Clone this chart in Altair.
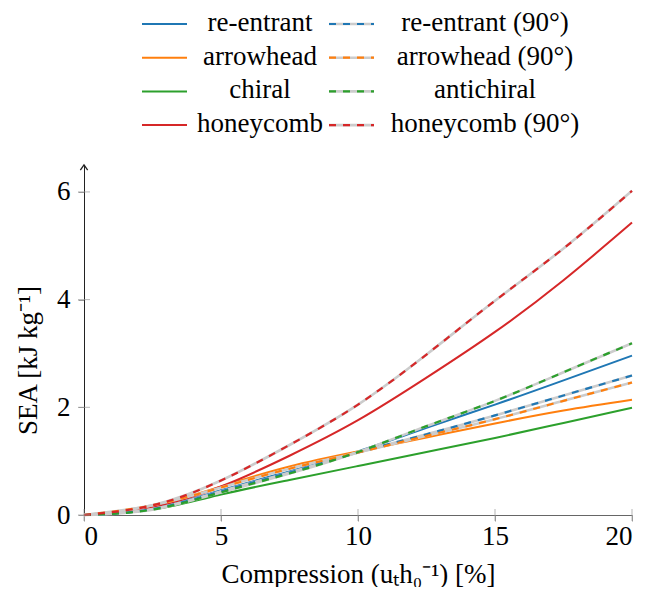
import altair as alt
import pandas as pd

# ---- data ----
x_vals = [0, 2.5, 5, 7.5, 10, 12.5, 15, 17.5, 20]

series_names = ["re-entrant", "arrowhead", "chiral", "honeycomb",
                "re-entrant (90°)", "arrowhead (90°)", "antichiral", "honeycomb (90°)"]
series_colors = ["#1f77b4", "#ff7f0e", "#2ca02c", "#d62728",
                 "#1f77b4", "#ff7f0e", "#2ca02c", "#d62728"]
series_dashed = [False, False, False, False, True, True, True, True]

re_entrant = [0, 0.12, 0.46, 0.81, 1.18, 1.62, 2.05, 2.50, 2.96]
arrowhead = [0, 0.17, 0.53, 0.90, 1.18, 1.44, 1.70, 1.94, 2.14]
chiral = [0, 0.10, 0.38, 0.65, 0.91, 1.17, 1.43, 1.71, 1.99]
honeycomb = [0, 0.15, 0.53, 1.10, 1.76, 2.55, 3.40, 4.36, 5.43]
re_entrant_90 = [0, 0.11, 0.44, 0.79, 1.16, 1.50, 1.85, 2.22, 2.59]
arrowhead_90 = [0, 0.18, 0.51, 0.86, 1.16, 1.47, 1.78, 2.12, 2.46]
antichiral = [0, 0.10, 0.42, 0.77, 1.17, 1.65, 2.12, 2.65, 3.19]
honeycomb_90 = [0, 0.18, 0.64, 1.30, 2.05, 2.98, 3.98, 4.95, 6.02]

series_values = [re_entrant, arrowhead, chiral, honeycomb,
                 re_entrant_90, arrowhead_90, antichiral, honeycomb_90]

x_ticks = [0, 5, 10, 15, 20]
y_ticks = [0, 2, 4, 6]
y_top = 6.5

x_title = "Compression (uₜh₀⁻¹) [%]"
y_title = "SEA [kJ kg⁻¹]"

FONT = "Liberation Serif"
FS = 27

# ---- tables ----
rows = []
for name, color, dashed, vals in zip(series_names, series_colors, series_dashed, series_values):
    for xv, yv in zip(x_vals, vals):
        rows.append({"name": name, "color": color, "dashed": dashed, "x": xv, "y": yv})
df = pd.DataFrame(rows)

leg_rows = []
for i, (name, color, dashed) in enumerate(zip(series_names, series_colors, series_dashed)):
    leg_rows.append({"name": name, "color": color, "dashed": dashed,
                     "col": i // 4, "row": i % 4})
leg_df = pd.DataFrame(leg_rows)

W, H = 548, 350
INTERP = "natural"
xs = alt.Scale(domain=[0, 20], nice=False, zero=False)
ys = alt.Scale(domain=[0, y_top], nice=False)

base = alt.Chart(df)
X = alt.X("x:Q", scale=xs, axis=alt.Axis(values=x_ticks, title=x_title, grid=False,
          domainColor="#666", tickColor="#999", tickSize=6, labelPadding=2,
          titlePadding=12, format="d", labelFont=FONT, titleFont=FONT,
          labelFontSize=FS, titleFontSize=FS, labelColor="black", titleColor="black",
          titleFontWeight="normal"))
Y = alt.Y("y:Q", scale=ys, axis=alt.Axis(values=y_ticks, title=y_title, grid=False,
          domainColor="#222", tickColor="#999", tickSize=6, labelPadding=8,
          titlePadding=14, titleY=195, format="d", labelFont=FONT, titleFont=FONT,
          labelFontSize=FS, titleFontSize=FS, labelColor="black", titleColor="black",
          titleFontWeight="normal"))

solid = base.transform_filter("!datum.dashed").mark_line(
    strokeWidth=2, interpolate=INTERP).encode(
    x=X, y=Y, color=alt.Color("color:N", scale=None), detail="name:N")
grey = base.transform_filter("datum.dashed").mark_line(
    strokeWidth=2.6, interpolate=INTERP, color="#cccccc").encode(
    x="x:Q", y="y:Q", detail="name:N")
dashed = base.transform_filter("datum.dashed").mark_line(
    strokeWidth=2.2, interpolate=INTERP, strokeDash=[7, 7]).encode(
    x="x:Q", y="y:Q", color=alt.Color("color:N", scale=None), detail="name:N")

xt = alt.Chart(pd.DataFrame({"t": x_ticks})).mark_tick(
    orient="vertical", size=12, thickness=1, color="#999").encode(
    x=alt.X("t:Q", scale=xs), y=alt.datum(0))
yt = alt.Chart(pd.DataFrame({"t": y_ticks})).mark_tick(
    orient="horizontal", size=12, thickness=1, color="#999").encode(
    y=alt.Y("t:Q", scale=ys), x=alt.datum(0))
arrow = alt.Chart(pd.DataFrame({"v": [y_top]})).mark_point(
    shape="M -0.7 1 L 0 0 L 0.7 1", filled=False, stroke="#222",
    strokeWidth=1.3, size=110, opacity=1).encode(
    y=alt.Y("v:Q", scale=ys), x=alt.datum(0))

main = alt.layer(solid, grey, dashed, xt, yt, arrow).properties(width=W, height=H)

# ---- custom legend (layout in pixel-like units) ----
LH = 140
lx = alt.Scale(domain=[0, W], nice=False, zero=False)
ly = alt.Scale(domain=[0, LH], nice=False, reverse=True)
lbase = alt.Chart(leg_df).transform_calculate(
    sx="58 + datum.col * 187",
    ex="103 + datum.col * 187",
    tx="datum.col == 0 ? 176 : 401",
    ty="16 + datum.row * 33.7")
lsolid = lbase.transform_filter("!datum.dashed").mark_rule(strokeWidth=2).encode(
    x=alt.X("sx:Q", scale=lx, axis=None), x2="ex:Q",
    y=alt.Y("ty:Q", scale=ly, axis=None), color=alt.Color("color:N", scale=None))
lgrey = lbase.transform_filter("datum.dashed").mark_rule(strokeWidth=2.6, color="#cccccc").encode(
    x=alt.X("sx:Q", scale=lx, axis=None), x2="ex:Q",
    y=alt.Y("ty:Q", scale=ly, axis=None))
ldash = lbase.transform_filter("datum.dashed").mark_rule(strokeWidth=2.2, strokeDash=[7, 7]).encode(
    x=alt.X("sx:Q", scale=lx, axis=None), x2="ex:Q",
    y=alt.Y("ty:Q", scale=ly, axis=None), color=alt.Color("color:N", scale=None))
ltext = lbase.mark_text(font=FONT, fontSize=FS, align="center", baseline="middle",
                        color="black", dy=-1).encode(
    x=alt.X("tx:Q", scale=lx, axis=None), y=alt.Y("ty:Q", scale=ly, axis=None), text="name:N")
legend = alt.layer(lsolid, lgrey, ldash, ltext).properties(width=W, height=LH)

chart = alt.vconcat(legend, main, spacing=17, bounds="flush").properties(
    padding={"left": 6, "top": 0, "right": 0, "bottom": 0}).configure_view(
    stroke=None)

chart.save("out.html", embed_options={"renderer": "svg", "actions": False})
